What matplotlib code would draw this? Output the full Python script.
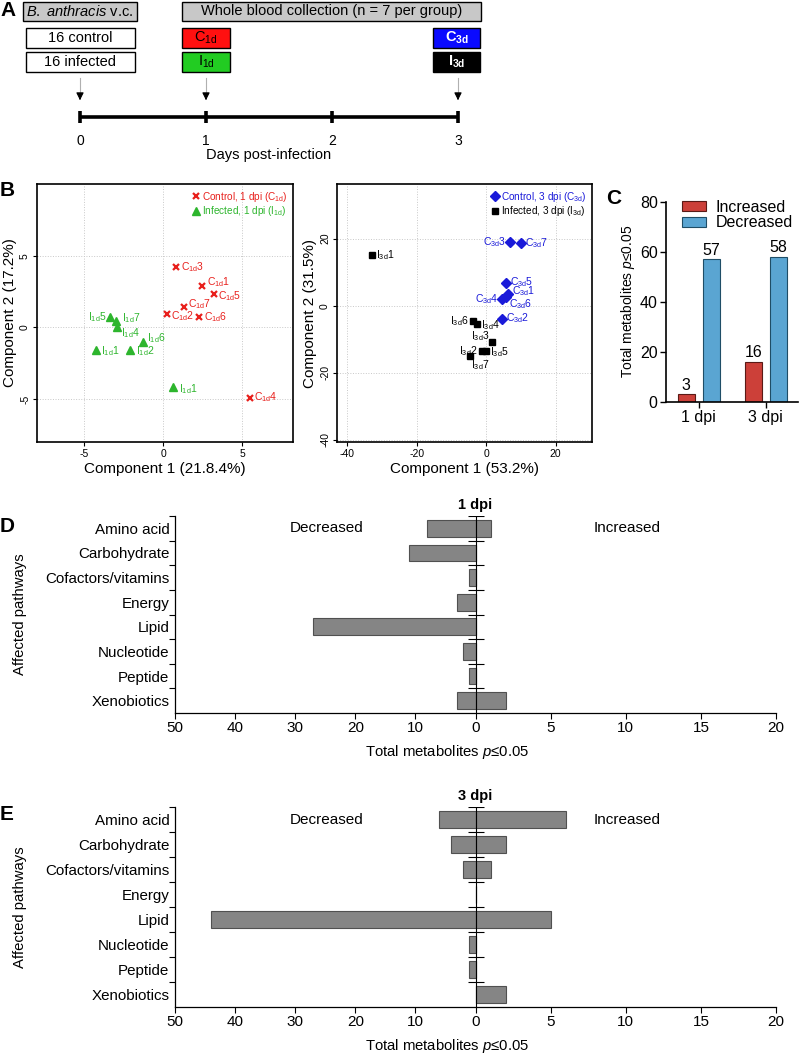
import numpy as np
import matplotlib.pyplot as plt
from matplotlib.patches import Rectangle

plt.rcParams['font.family'] = ['Liberation Sans', 'DejaVu Sans']
plt.rcParams['mathtext.fontset'] = 'custom'
plt.rcParams['mathtext.rm'] = 'Liberation Sans'
plt.rcParams['mathtext.it'] = 'Liberation Sans:italic'
plt.rcParams['mathtext.bf'] = 'Liberation Sans:bold'
plt.rcParams['axes.unicode_minus'] = False

# ---- data ----
days = [0, 1, 2, 3]
arrow_days = [0, 1, 3]

c1_ids = [1, 2, 3, 4, 5, 6, 7]
c1_x = [2.47, 0.23, 0.82, 5.46, 3.2, 2.28, 1.29]
c1_y = [2.86, 0.9, 4.2, -4.9, 2.3, 0.74, 1.42]
i1_ids = [1, 2, 1, 4, 5, 6, 7]
i1_x = [-4.28, -2.09, 0.63, -2.93, -3.35, -1.31, -3.0]
i1_y = [-1.58, -1.58, -4.19, 0.0, 0.7, -1.05, 0.44]

c3_ids = [1, 2, 3, 4, 5, 6, 7]
c3_x = [6.33, 4.5, 7.0, 4.7, 5.66, 5.66, 10.1]
c3_y = [3.6, -3.8, 18.95, 2.1, 6.77, 2.6, 18.6]
i3_ids = [1, 2, 3, 4, 5, 6, 7]
i3_x = [-32.9, -1.15, 1.73, -2.78, 0.0, -3.74, -4.7]
i3_y = [15.06, -13.4, -10.7, -5.3, -13.5, -4.5, -14.9]

groups = ['1 dpi', '3 dpi']
increased = [3, 16]
decreased = [57, 58]

pathways = ['Amino acid', 'Carbohydrate', 'Cofactors/vitamins', 'Energy',
            'Lipid', 'Nucleotide', 'Peptide', 'Xenobiotics']
dec_1dpi = [8, 11, 1, 3, 27, 2, 1, 3]
inc_1dpi = [1, 0, 0, 0, 0, 0, 0, 2]
dec_3dpi = [6, 4, 2, 0, 44, 1, 1, 0]
inc_3dpi = [6, 2, 1, 0, 5, 0, 0, 2]

# label placement for the score plots (points offset, alignment)
c1_off = [(3, 3, 'left'), (3, -1, 'left'), (3, 0, 'left'), (3, 0, 'left'),
          (3, -1, 'left'), (3, 0, 'left'), (3, 2, 'left')]
i1_off = [(4, -1, 'left'), (4, -1, 'left'), (4, -1, 'left'), (3, -4, 'left'),
          (-3, 0, 'right'), (3, 3, 'left'), (4, 2, 'left')]
c3_off = [(3, 2, 'left'), (3, 0, 'left'), (-3, 0, 'right'), (-3, 0, 'right'),
          (3, 1, 'left'), (2, -5, 'left'), (3, 0, 'left')]
i3_off = [(3, 0, 'left'), (-3, 0, 'right'), (-2, 4, 'right'), (3, -1, 'left'),
          (3, -1, 'left'), (-3, 0, 'right'), (1, -7, 'left')]

RED = '#e8201c'
GREEN = '#2db52d'
BLUE = '#1a1ad9'

W, H = 800, 1056
fig = plt.figure(figsize=(8, 10.56), dpi=100)


def px_axes(x0, y0, x1, y1):
    return fig.add_axes([x0 / W, 1 - y1 / H, (x1 - x0) / W, (y1 - y0) / H])


def letter(x, y, s):
    fig.text(x / W, 1 - y / H, s, fontsize=15, fontweight='bold', va='center', ha='left')


# ---- A: timeline schematic ----
ax_a = px_axes(0, 0, 800, 165)
ax_a.set_xlim(-80 / 126, 720 / 126)
ax_a.set_ylim(165, 0)
ax_a.axis('off')


def box(xc, w, y0, y1, fc, text, color='k', weight='normal', size=10.5):
    ax_a.add_patch(Rectangle((xc - w / 2, y0), w, y1 - y0, facecolor=fc,
                             edgecolor='k', lw=1))
    ax_a.text(xc, (y0 + y1) / 2, text, ha='center', va='center', color=color,
              fontweight=weight, fontsize=size)


box(0, 0.905, 2, 21, '#c8c8c8', r'$\mathit{B.\ anthracis}$ v.c.')
box(1.995, 2.37, 2, 21, '#c8c8c8', 'Whole blood collection (n = 7 per group)')
box(0.003, 0.865, 28, 48, 'white', '16 control')
box(0.003, 0.865, 52, 72, 'white', '16 infected')
box(1.0, 0.38, 28, 48, '#ff1010', r'C$_\mathregular{1d}$')
box(1.0, 0.38, 52, 72, '#22cc22', r'I$_\mathregular{1d}$')
box(2.99, 0.375, 28, 48, '#0a0aff', r'C$_\mathbf{3d}$', 'white', 'bold')
box(2.99, 0.375, 52, 72, 'black', r'I$_\mathbf{3d}$', 'white', 'bold')

for d in arrow_days:
    ax_a.plot([d, d], [78, 96], color='#b0b0b0', lw=0.8)
    ax_a.annotate('', xy=(d, 103), xytext=(d, 95),
                  arrowprops=dict(arrowstyle='-|>', color='k', lw=0.8,
                                  mutation_scale=11))
ax_a.plot([days[0], days[-1]], [117, 117], color='k', lw=2.6, solid_capstyle='butt')
ax_a.vlines(days, 111, 123, color='k', lw=2.6)
for d in days:
    ax_a.text(d, 141, str(d), ha='center', va='center', fontsize=10)
ax_a.text(1.5, 155, 'Days post-infection', ha='center', va='center', fontsize=10.5)
letter(0, 11, 'A')


# ---- B: score plots ----
def score_axes(ax, xlim, ylim, ticks_x, ticks_y):
    ax.set_xlim(*xlim)
    ax.set_ylim(*ylim)
    ax.set_xticks(ticks_x)
    ax.set_yticks(ticks_y)
    ax.grid(True, color='#c8c8c8', lw=0.7, ls=':')
    ax.set_axisbelow(True)
    ax.tick_params(labelsize=7.5, length=3, width=0.8, pad=2)
    for lab in ax.get_yticklabels():
        lab.set_rotation(90)
        lab.set_va('center')
    for s in ax.spines.values():
        s.set_linewidth(1.2)


def label_points(ax, xs, ys, ids, offs, prefix, color):
    for x, y, i, (dx, dy, ha) in zip(xs, ys, ids, offs):
        ax.annotate(prefix + str(i), (x, y), xytext=(dx, dy),
                    textcoords='offset points', ha=ha, va='center',
                    fontsize=7.5, color=color)


ax_b1 = px_axes(37, 184, 293, 442)
score_axes(ax_b1, (-8, 8.2), (-8, 10), [-5, 0, 5], [-5, 0, 5])
ax_b1.plot(c1_x, c1_y, 'x', color=RED, ms=5, mew=1.6, ls='none',
           label=r'Control, 1 dpi (C$_\mathregular{1d}$)')
ax_b1.plot(i1_x, i1_y, '^', color=GREEN, ms=6, ls='none',
           label=r'Infected, 1 dpi (I$_\mathregular{1d}$)')
label_points(ax_b1, c1_x, c1_y, c1_ids, c1_off, r'C$_\mathregular{1d}$', RED)
label_points(ax_b1, i1_x, i1_y, i1_ids, i1_off, r'I$_\mathregular{1d}$', GREEN)
ax_b1.legend(loc='upper right', frameon=False, fontsize=7.2, handletextpad=0.05,
             handlelength=1, labelspacing=0.05, borderaxespad=0.15,
             labelcolor=[RED, GREEN])
ax_b1.set_xlabel('Component 1 (21.8.4%)', fontsize=11, labelpad=2)
ax_b1.set_ylabel('Component 2 (17.2%)', fontsize=11, labelpad=2)

ax_b2 = px_axes(337, 184, 592, 442)
score_axes(ax_b2, (-43, 30.5), (-40.6, 36.3), [-40, -20, 0, 20], [-40, -20, 0, 20])
ax_b2.plot(c3_x, c3_y, 'D', color=BLUE, ms=5, ls='none',
           label=r'Control, 3 dpi (C$_\mathregular{3d}$)')
ax_b2.plot(i3_x, i3_y, 's', color='k', ms=5, ls='none',
           label=r'Infected, 3 dpi (I$_\mathregular{3d}$)')
label_points(ax_b2, c3_x, c3_y, c3_ids, c3_off, r'C$_\mathregular{3d}$', BLUE)
label_points(ax_b2, i3_x, i3_y, i3_ids, i3_off, r'I$_\mathregular{3d}$', 'k')
ax_b2.legend(loc='upper right', frameon=False, fontsize=7.2, handletextpad=0.05,
             handlelength=1, labelspacing=0.05, borderaxespad=0.15,
             labelcolor=[BLUE, 'k'])
ax_b2.set_xlabel('Component 1 (53.2%)', fontsize=11, labelpad=2)
ax_b2.set_ylabel('Component 2 (31.5%)', fontsize=11, labelpad=2)
letter(0, 190, 'B')

# ---- C: totals ----
ax_c = px_axes(666, 201.7, 798, 401.7)
xg = np.arange(len(groups))
bw = 0.25
b_inc = ax_c.bar(xg - 0.187, increased, bw, color='#cc4039', edgecolor='#5a1a16',
                 lw=0.8, label='Increased')
b_dec = ax_c.bar(xg + 0.187, decreased, bw, color='#5aa5d2', edgecolor='#1f4d66',
                 lw=0.8, label='Decreased')
ax_c.bar_label(b_inc, fontsize=11.5, padding=1)
ax_c.bar_label(b_dec, fontsize=11.5, padding=1)
ax_c.set_xlim(-0.49, 1.48)
ax_c.set_ylim(0, 80)
ax_c.set_yticks([0, 20, 40, 60, 80])
ax_c.set_xticks(xg)
ax_c.set_xticklabels(groups)
ax_c.tick_params(labelsize=11.5, length=4, width=1, pad=2)
ax_c.spines[['top', 'right']].set_visible(False)
ax_c.spines[['left', 'bottom']].set_linewidth(1.2)
ax_c.set_ylabel(r'Total metabolites $p$≤0.05', fontsize=10, labelpad=2)
ax_c.legend(loc='upper left', bbox_to_anchor=(0.12, 1.01), frameon=False,
            fontsize=11.5, handlelength=1.5, handleheight=0.55, labelspacing=0.05,
            handletextpad=0.6, borderpad=0, borderaxespad=0)
letter(606, 198, 'C')


# ---- D/E: pathways ----
def fwd(x):
    x = np.asarray(x, dtype=float)
    return np.where(x < 0, x / 50.0, x / 20.0)


def inv(y):
    y = np.asarray(y, dtype=float)
    return np.where(y < 0, y * 50.0, y * 20.0)


def pathway_panel(ax, dec, inc, title):
    n = len(pathways)
    yy = np.arange(n)
    ax.set_xscale('function', functions=(fwd, inv))
    ax.barh(yy, [-d for d in dec], height=0.68, color='#858585',
            edgecolor='#505050', lw=0.8, zorder=2)
    ax.barh(yy, inc, height=0.68, color='#858585', edgecolor='#505050',
            lw=0.8, zorder=2)
    ax.set_xlim(-50, 20)
    ax.set_ylim(n - 0.5, -0.5)
    ticks = [-50, -40, -30, -20, -10, 0, 5, 10, 15, 20]
    ax.set_xticks(ticks)
    ax.set_xticklabels([str(abs(t)) for t in ticks])
    ax.set_yticks(yy)
    ax.set_yticklabels(pathways)
    bounds = np.arange(n) - 0.5
    ax.set_yticks(bounds, minor=True)
    ax.tick_params(axis='y', which='major', length=0, pad=4, labelsize=10.9)
    ax.tick_params(axis='y', which='minor', length=4, width=0.8)
    ax.tick_params(axis='x', length=4, width=0.8, labelsize=11, pad=2)
    ax.spines[['top', 'right']].set_visible(False)
    ax.spines[['left', 'bottom']].set_linewidth(0.9)
    ax.axvline(0, color='k', lw=0.8, zorder=3)
    ax.plot(np.zeros(n), bounds, ls='none', marker='_', ms=12, mew=0.8,
            color='k', zorder=3)
    ax.text(-24.7, 0, 'Decreased', ha='center', va='center', fontsize=11)
    ax.text(10.1, 0, 'Increased', ha='center', va='center', fontsize=11)
    ax.set_title(title, fontsize=10.5, fontweight='bold', pad=5)
    ax.set_xlabel(r'Total metabolites $p$≤0.05', fontsize=10.7)
    ax.xaxis.set_label_coords((447 - 175) / 601, -0.15)
    ax.set_ylabel('Affected pathways', fontsize=10.7)
    ax.yaxis.set_label_coords(-0.246, 0.5)


ax_d = px_axes(175, 516, 776, 713)
pathway_panel(ax_d, dec_1dpi, inc_1dpi, '1 dpi')
letter(0, 526, 'D')

ax_e = px_axes(175, 807, 776, 1007)
pathway_panel(ax_e, dec_3dpi, inc_3dpi, '3 dpi')
letter(0, 815, 'E')

fig.savefig('out.png', dpi=100)
